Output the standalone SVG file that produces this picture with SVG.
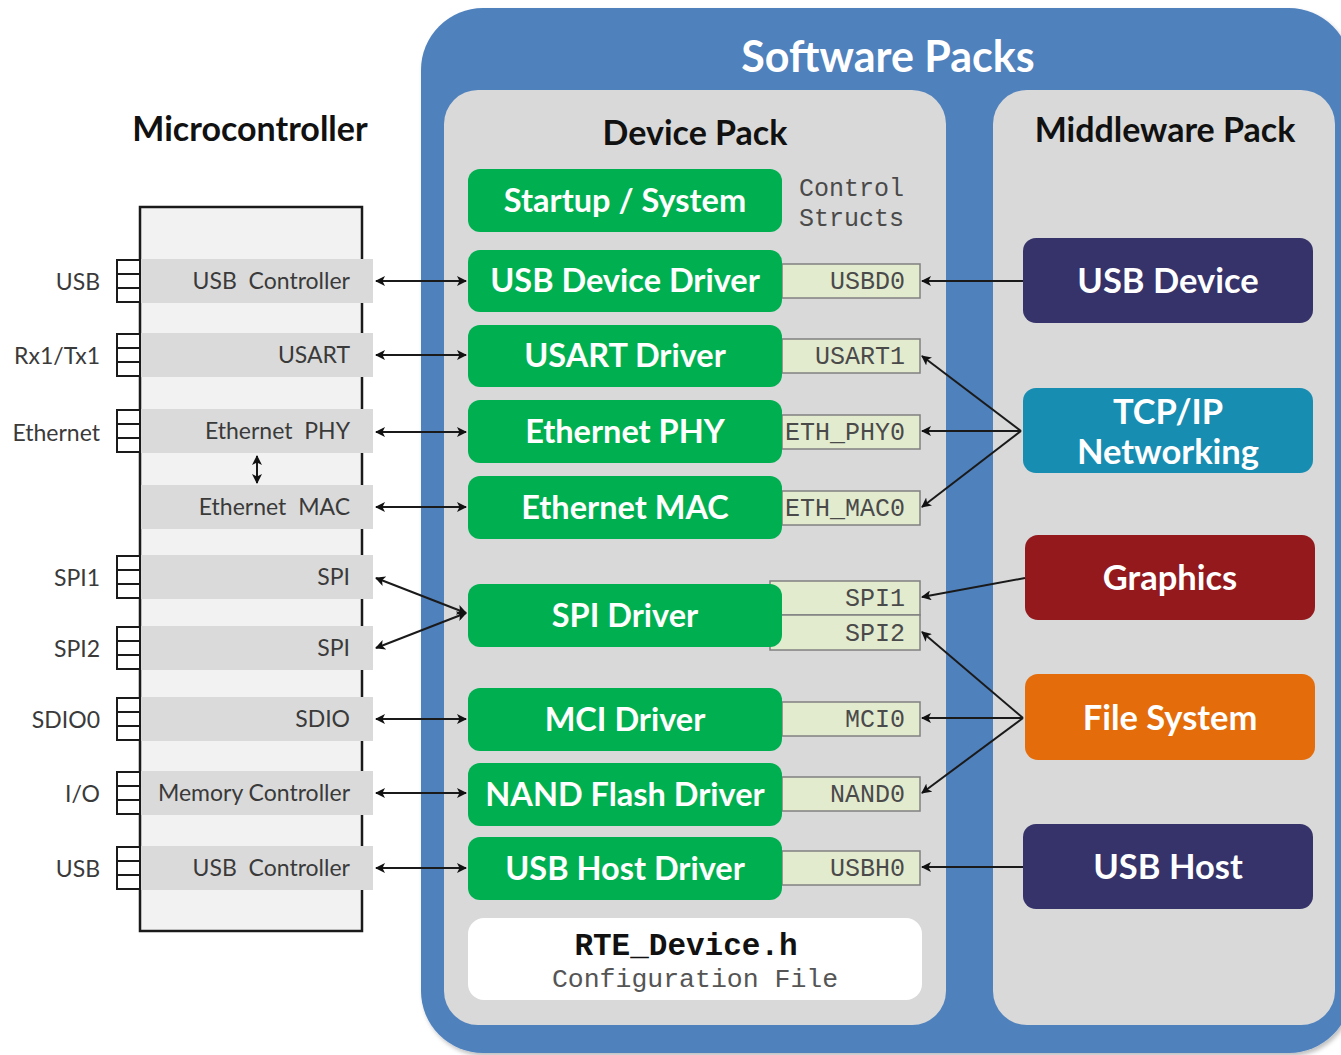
<svg xmlns="http://www.w3.org/2000/svg" width="1341" height="1055" viewBox="0 0 1341 1055">
  <style>
    .title { font-family: Lato, "Open Sans", sans-serif; font-weight: bold; }
    .lbl { font-family: Lato, "Open Sans", sans-serif; font-size: 23px; fill: #3a3a3a; white-space: pre; }
    .band { fill: #dadada; }
    .pin { fill: #ffffff; stroke: #1a1a1a; stroke-width: 2; }
    .drv { fill: #00b050; }
    .drvtxt { font-family: Lato, "Open Sans", sans-serif; font-weight: bold; font-size: 32.5px; fill: #ffffff; text-anchor: middle; }
    .cs { fill: #e3ebcf; stroke: #808080; stroke-width: 1.5; }
    .mono { font-family: "Liberation Mono", "DejaVu Sans Mono", monospace; font-size: 25px; fill: #4a4a4a; }
    .mw { font-family: Lato, "Open Sans", sans-serif; font-weight: bold; font-size: 34.5px; fill: #ffffff; text-anchor: middle; }
    .conn { stroke: #1a1a1a; stroke-width: 2; fill: none; }
  </style>
  <defs>
    <marker id="ah" viewBox="0 0 10 10" refX="9" refY="5" markerWidth="10" markerHeight="10" markerUnits="userSpaceOnUse" orient="auto-start-reverse">
      <path d="M0,0 L10,5 L0,10 L2.5,5 Z" fill="#111"/>
    </marker>
    <filter id="shadow" x="-5%" y="-5%" width="110%" height="110%">
      <feDropShadow dx="2" dy="3" stdDeviation="2" flood-color="#000" flood-opacity="0.25"/>
    </filter>
  </defs>

  <rect x="0" y="0" width="1341" height="1055" fill="#ffffff"/>

  <!-- Software Packs container -->
  <g id="software-packs">
    <rect x="421" y="8" width="930" height="1045" rx="62" fill="#4f81bd" filter="url(#shadow)"/>
    <text class="title" x="888" y="72" font-size="43" fill="#ffffff" text-anchor="middle">Software Packs</text>
  </g>

  <!-- Device Pack panel -->
  <g id="device-pack">
    <rect x="444" y="90" width="502" height="935" rx="34" fill="#d9d9d9"/>
    <text class="title" x="695" y="145" font-size="34" fill="#111" text-anchor="middle">Device Pack</text>
  </g>

  <!-- Middleware Pack panel -->
  <g id="middleware-pack">
    <rect x="993" y="90" width="342" height="935" rx="34" fill="#d9d9d9"/>
    <text class="title" x="1165" y="142" font-size="34" fill="#111" text-anchor="middle">Middleware Pack</text>
  </g>

  <!-- Microcontroller -->
  <g id="microcontroller">
    <text class="title" x="250" y="141" font-size="34" fill="#111" text-anchor="middle">Microcontroller</text>
    <rect x="140" y="207" width="222" height="724" fill="#f2f2f2" stroke="#1a1a1a" stroke-width="2.5"/>
  </g>

  <!-- Peripheral rows: band, pins, labels -->
  <g id="periph-usb1">
    <rect class="band" x="141" y="259" width="232" height="44"/>
    <rect class="pin" x="117" y="260" width="23" height="14"/><rect class="pin" x="117" y="274" width="23" height="14"/><rect class="pin" x="117" y="288" width="23" height="14"/>
    <text class="lbl" x="100" y="290" text-anchor="end">USB</text>
    <text class="lbl" x="350" y="289" text-anchor="end" xml:space="preserve">USB  Controller</text>
  </g>
  <g id="periph-usart">
    <rect class="band" x="141" y="333" width="232" height="44"/>
    <rect class="pin" x="117" y="334" width="23" height="14"/><rect class="pin" x="117" y="348" width="23" height="14"/><rect class="pin" x="117" y="362" width="23" height="14"/>
    <text class="lbl" x="100" y="364" text-anchor="end">Rx1/Tx1</text>
    <text class="lbl" x="350" y="363" text-anchor="end">USART</text>
  </g>
  <g id="periph-ethphy">
    <rect class="band" x="141" y="409" width="232" height="44"/>
    <rect class="pin" x="117" y="410" width="23" height="14"/><rect class="pin" x="117" y="424" width="23" height="14"/><rect class="pin" x="117" y="438" width="23" height="14"/>
    <text class="lbl" x="100" y="441" text-anchor="end">Ethernet</text>
    <text class="lbl" x="350" y="439" text-anchor="end" xml:space="preserve">Ethernet  PHY</text>
  </g>
  <g id="periph-ethmac">
    <rect class="band" x="141" y="485" width="232" height="44"/>
    <text class="lbl" x="350" y="515" text-anchor="end" xml:space="preserve">Ethernet  MAC</text>
  </g>
  <g id="periph-spi1">
    <rect class="band" x="141" y="555" width="232" height="44"/>
    <rect class="pin" x="117" y="556" width="23" height="14"/><rect class="pin" x="117" y="570" width="23" height="14"/><rect class="pin" x="117" y="584" width="23" height="14"/>
    <text class="lbl" x="100" y="586" text-anchor="end">SPI1</text>
    <text class="lbl" x="350" y="585" text-anchor="end">SPI</text>
  </g>
  <g id="periph-spi2">
    <rect class="band" x="141" y="626" width="232" height="44"/>
    <rect class="pin" x="117" y="627" width="23" height="14"/><rect class="pin" x="117" y="641" width="23" height="14"/><rect class="pin" x="117" y="655" width="23" height="14"/>
    <text class="lbl" x="100" y="657" text-anchor="end">SPI2</text>
    <text class="lbl" x="350" y="656" text-anchor="end">SPI</text>
  </g>
  <g id="periph-sdio">
    <rect class="band" x="141" y="697" width="232" height="44"/>
    <rect class="pin" x="117" y="698" width="23" height="14"/><rect class="pin" x="117" y="712" width="23" height="14"/><rect class="pin" x="117" y="726" width="23" height="14"/>
    <text class="lbl" x="100" y="728" text-anchor="end">SDIO0</text>
    <text class="lbl" x="350" y="727" text-anchor="end">SDIO</text>
  </g>
  <g id="periph-mem">
    <rect class="band" x="141" y="771" width="232" height="44"/>
    <rect class="pin" x="117" y="772" width="23" height="14"/><rect class="pin" x="117" y="786" width="23" height="14"/><rect class="pin" x="117" y="800" width="23" height="14"/>
    <text class="lbl" x="100" y="802" text-anchor="end">I/O</text>
    <text class="lbl" x="350" y="801" text-anchor="end">Memory Controller</text>
  </g>
  <g id="periph-usb2">
    <rect class="band" x="141" y="846" width="232" height="44"/>
    <rect class="pin" x="117" y="847" width="23" height="14"/><rect class="pin" x="117" y="861" width="23" height="14"/><rect class="pin" x="117" y="875" width="23" height="14"/>
    <text class="lbl" x="100" y="877" text-anchor="end">USB</text>
    <text class="lbl" x="350" y="876" text-anchor="end" xml:space="preserve">USB  Controller</text>
  </g>

  <!-- Device drivers -->
  <g id="drv-startup">
    <rect class="drv" x="468" y="169" width="314" height="63" rx="12"/>
    <text class="drvtxt" x="625" y="212">Startup / System</text>
    <text class="mono" x="799" y="196">Control</text>
    <text class="mono" x="799" y="226">Structs</text>
  </g>
  <g id="drv-usbd">
    <rect class="cs" x="782" y="264" width="138" height="34"/>
    <rect class="drv" x="468" y="250" width="314" height="62" rx="12"/>
    <text class="drvtxt" x="625" y="292">USB Device Driver</text>
    <text class="mono" x="905" y="289" text-anchor="end">USBD0</text>
  </g>
  <g id="drv-usart">
    <rect class="cs" x="782" y="339" width="138" height="34"/>
    <rect class="drv" x="468" y="325" width="314" height="62" rx="12"/>
    <text class="drvtxt" x="625" y="367">USART Driver</text>
    <text class="mono" x="905" y="364" text-anchor="end">USART1</text>
  </g>
  <g id="drv-ethphy">
    <rect class="cs" x="782" y="415" width="138" height="34"/>
    <rect class="drv" x="468" y="400" width="314" height="63" rx="12"/>
    <text class="drvtxt" x="625" y="443">Ethernet PHY</text>
    <text class="mono" x="905" y="440" text-anchor="end">ETH_PHY0</text>
  </g>
  <g id="drv-ethmac">
    <rect class="cs" x="782" y="491" width="138" height="34"/>
    <rect class="drv" x="468" y="476" width="314" height="63" rx="12"/>
    <text class="drvtxt" x="625" y="519">Ethernet MAC</text>
    <text class="mono" x="905" y="516" text-anchor="end">ETH_MAC0</text>
  </g>
  <g id="drv-spi">
    <rect class="cs" x="770" y="581" width="150" height="34"/>
    <rect class="cs" x="770" y="615" width="150" height="35"/>
    <rect class="drv" x="468" y="584" width="314" height="63" rx="12"/>
    <text class="drvtxt" x="625" y="627">SPI Driver</text>
    <text class="mono" x="905" y="606" text-anchor="end">SPI1</text>
    <text class="mono" x="905" y="641" text-anchor="end">SPI2</text>
  </g>
  <g id="drv-mci">
    <rect class="cs" x="782" y="702" width="138" height="34"/>
    <rect class="drv" x="468" y="688" width="314" height="63" rx="12"/>
    <text class="drvtxt" x="625" y="731">MCI Driver</text>
    <text class="mono" x="905" y="727" text-anchor="end">MCI0</text>
  </g>
  <g id="drv-nand">
    <rect class="cs" x="782" y="777" width="138" height="34"/>
    <rect class="drv" x="468" y="763" width="314" height="63" rx="12"/>
    <text class="drvtxt" x="625" y="806">NAND Flash Driver</text>
    <text class="mono" x="905" y="802" text-anchor="end">NAND0</text>
  </g>
  <g id="drv-usbh">
    <rect class="cs" x="782" y="851" width="138" height="34"/>
    <rect class="drv" x="468" y="837" width="314" height="63" rx="12"/>
    <text class="drvtxt" x="625" y="880">USB Host Driver</text>
    <text class="mono" x="905" y="876" text-anchor="end">USBH0</text>
  </g>

  <!-- Configuration file -->
  <g id="rte-config">
    <rect x="468" y="918" width="454" height="82" rx="16" fill="#ffffff"/>
    <text x="686" y="955" text-anchor="middle" font-family="'Liberation Mono', monospace" font-weight="bold" font-size="31" fill="#111">RTE_Device.h</text>
    <text x="695" y="987" text-anchor="middle" font-family="'Liberation Mono', monospace" font-size="26.5" fill="#555">Configuration File</text>
  </g>

  <!-- Middleware components -->
  <g id="mw-usbdevice">
    <rect x="1023" y="238" width="290" height="85" rx="13" fill="#35336a"/>
    <text class="mw" x="1168" y="293">USB Device</text>
  </g>
  <g id="mw-tcpip">
    <rect x="1023" y="388" width="290" height="85" rx="13" fill="#178db2"/>
    <text class="mw" x="1168" y="424">TCP/IP</text>
    <text class="mw" x="1168" y="464">Networking</text>
  </g>
  <g id="mw-graphics">
    <rect x="1025" y="535" width="290" height="85" rx="13" fill="#93191c"/>
    <text class="mw" x="1170" y="590">Graphics</text>
  </g>
  <g id="mw-filesystem">
    <rect x="1025" y="674" width="290" height="86" rx="13" fill="#e46c0a"/>
    <text class="mw" x="1170" y="730">File System</text>
  </g>
  <g id="mw-usbhost">
    <rect x="1023" y="824" width="290" height="85" rx="13" fill="#35336a"/>
    <text class="mw" x="1168" y="879">USB Host</text>
  </g>

  <!-- Connectors -->
  <g id="connectors">
    <!-- peripheral <-> driver -->
    <line class="conn" x1="376" y1="281" x2="466" y2="281" marker-start="url(#ah)" marker-end="url(#ah)"/>
    <line class="conn" x1="376" y1="355" x2="466" y2="355" marker-start="url(#ah)" marker-end="url(#ah)"/>
    <line class="conn" x1="376" y1="432" x2="466" y2="432" marker-start="url(#ah)" marker-end="url(#ah)"/>
    <line class="conn" x1="376" y1="507" x2="466" y2="507" marker-start="url(#ah)" marker-end="url(#ah)"/>
    <line class="conn" x1="376" y1="578" x2="466" y2="613" marker-start="url(#ah)" marker-end="url(#ah)"/>
    <line class="conn" x1="376" y1="648" x2="466" y2="613" marker-start="url(#ah)" marker-end="url(#ah)"/>
    <line class="conn" x1="376" y1="719" x2="466" y2="719" marker-start="url(#ah)" marker-end="url(#ah)"/>
    <line class="conn" x1="376" y1="793" x2="466" y2="793" marker-start="url(#ah)" marker-end="url(#ah)"/>
    <line class="conn" x1="376" y1="868" x2="466" y2="868" marker-start="url(#ah)" marker-end="url(#ah)"/>
    <!-- PHY <-> MAC inside the MCU -->
    <line class="conn" x1="257" y1="456" x2="257" y2="483" marker-start="url(#ah)" marker-end="url(#ah)"/>
    <!-- middleware -> control structs -->
    <line class="conn" x1="1023" y1="281" x2="922" y2="281" marker-end="url(#ah)"/>
    <line class="conn" x1="1021" y1="431" x2="922" y2="356" marker-end="url(#ah)"/>
    <line class="conn" x1="1021" y1="431" x2="922" y2="431" marker-end="url(#ah)"/>
    <line class="conn" x1="1021" y1="431" x2="922" y2="507" marker-end="url(#ah)"/>
    <line class="conn" x1="1025" y1="578" x2="922" y2="597" marker-end="url(#ah)"/>
    <line class="conn" x1="1023" y1="718" x2="922" y2="632" marker-end="url(#ah)"/>
    <line class="conn" x1="1023" y1="718" x2="922" y2="718" marker-end="url(#ah)"/>
    <line class="conn" x1="1023" y1="718" x2="922" y2="793" marker-end="url(#ah)"/>
    <line class="conn" x1="1023" y1="867" x2="922" y2="867" marker-end="url(#ah)"/>
  </g>
</svg>
